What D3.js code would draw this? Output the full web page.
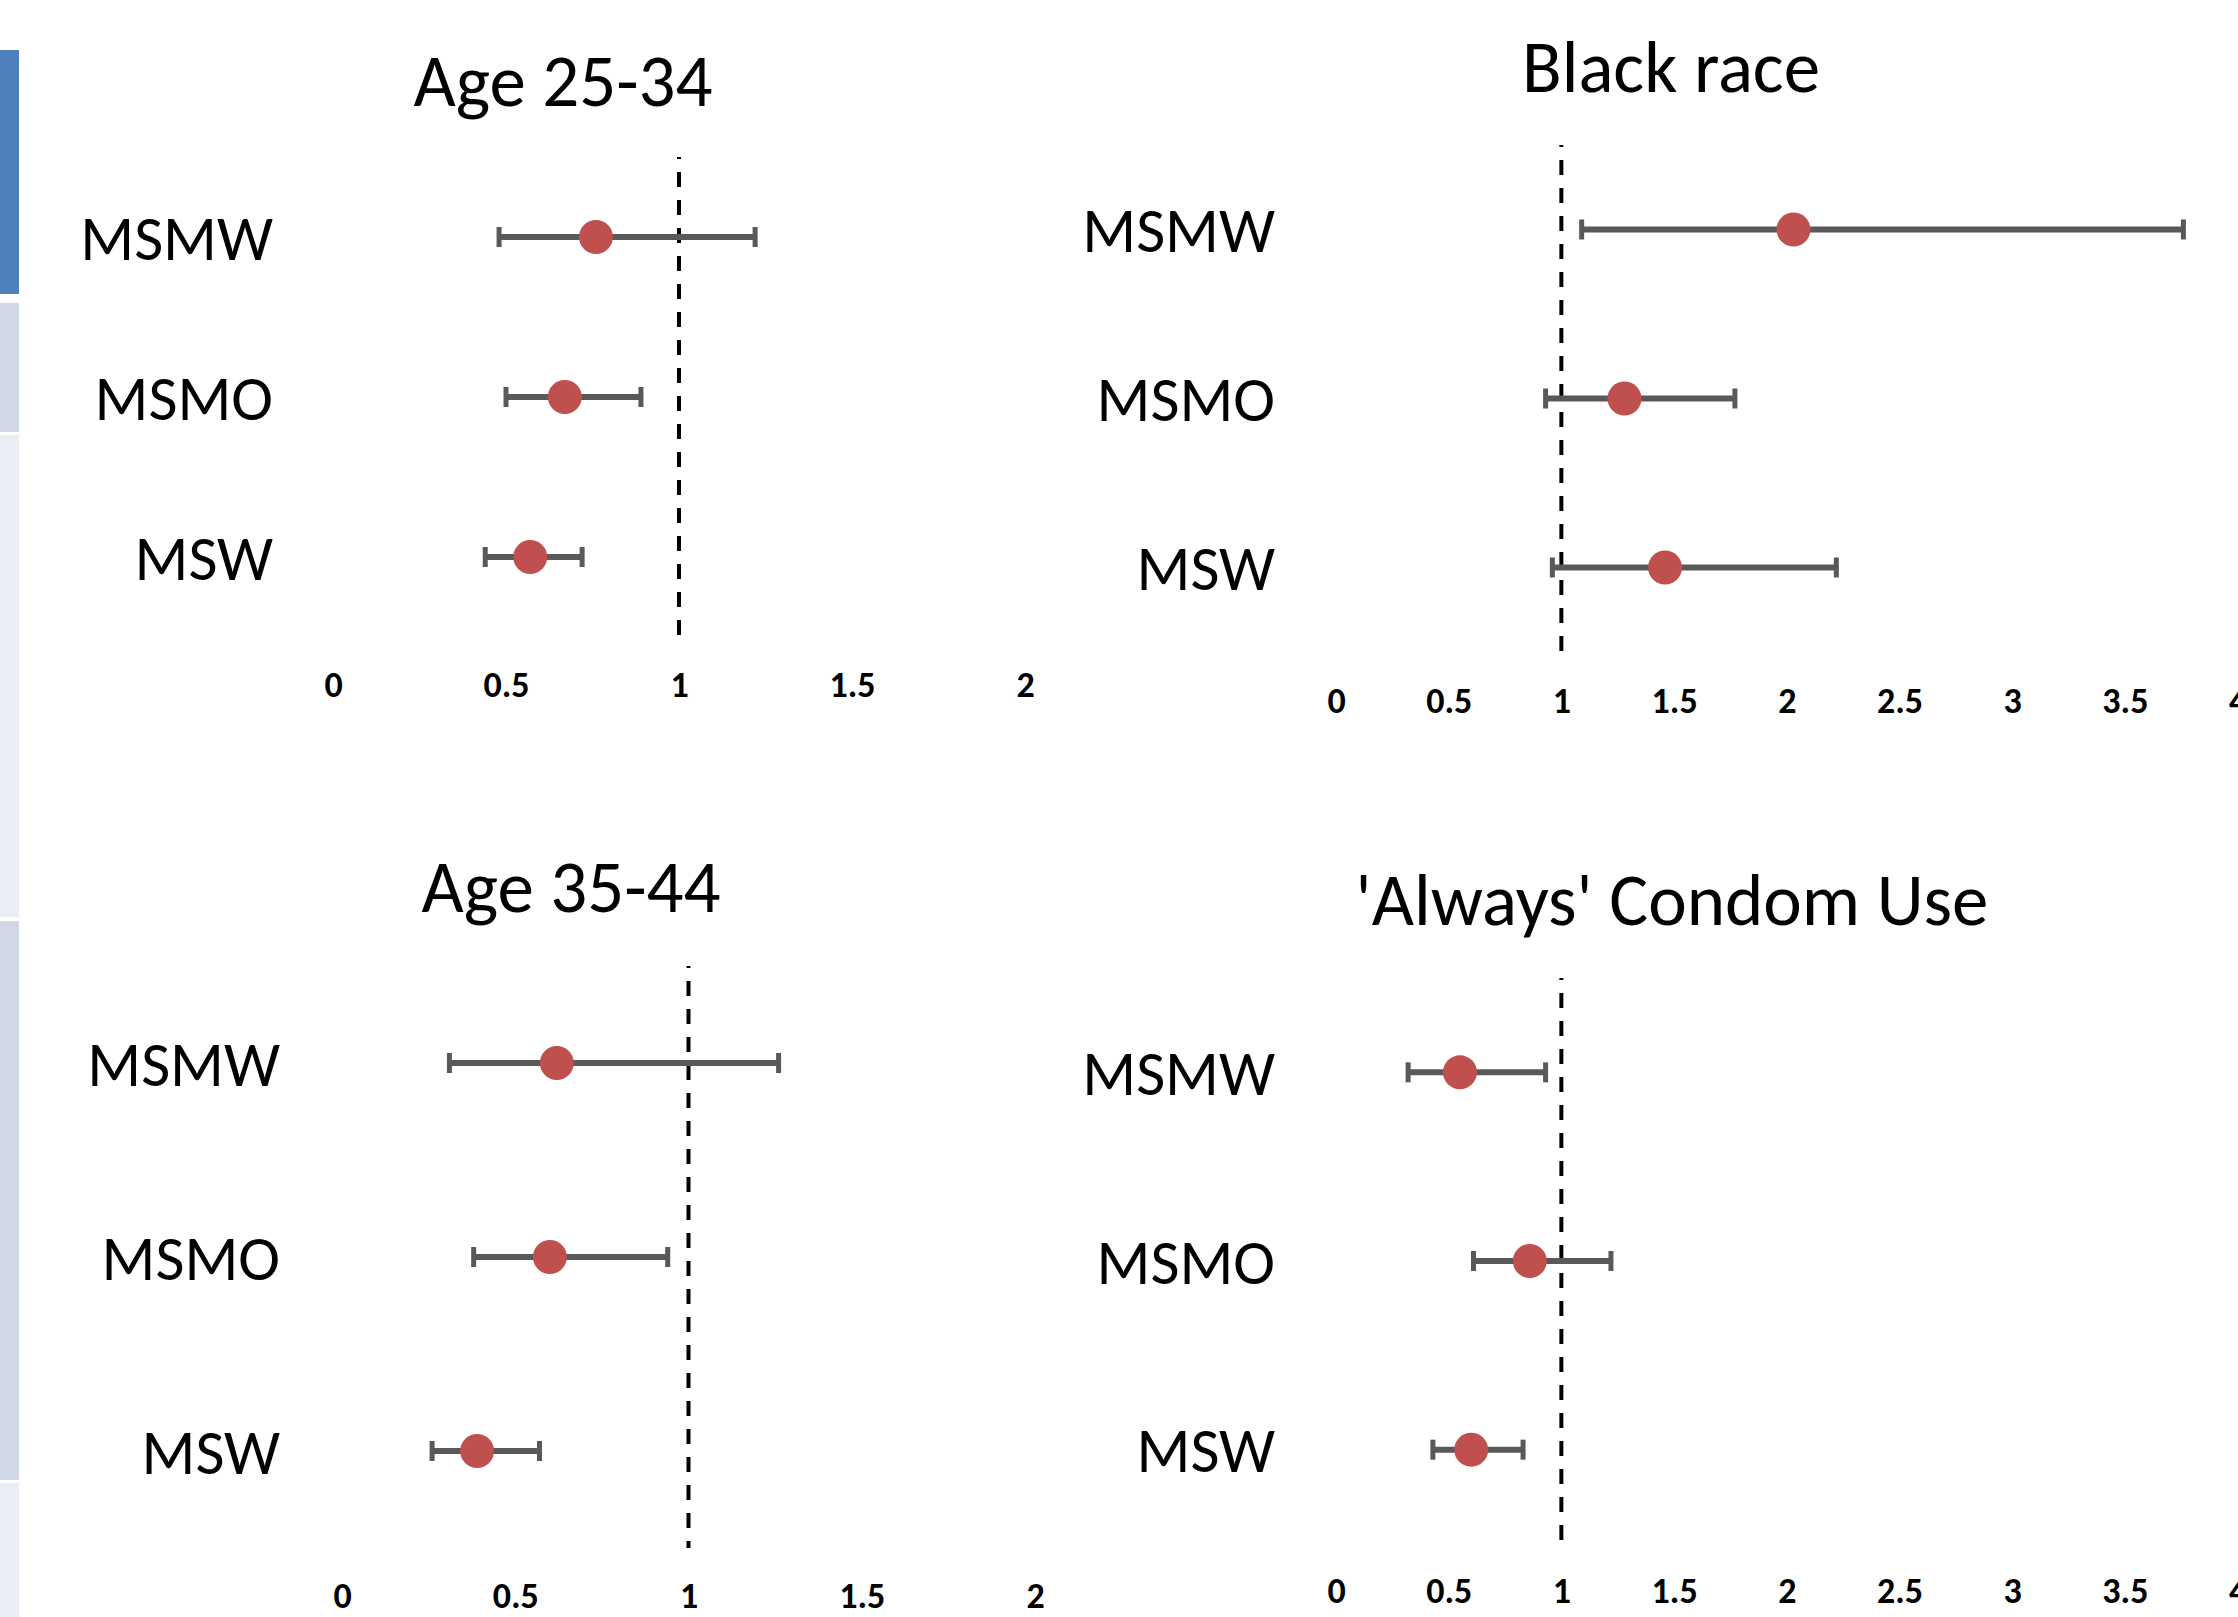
<!DOCTYPE html>
<html>
<head>
<meta charset="utf-8">
<script src="https://cdn.jsdelivr.net/npm/d3@7"></script>
<style>
  html, body { margin: 0; padding: 0; background: #fff; }
  svg { display: block; }
</style>
</head>
<body>
<div id="chart"></div>
<script>
(function() {
  'use strict';

  // data (odds ratios with 95% CI)
  var groups = ['MSMW', 'MSMO', 'MSW'];
  var titles = ['Age 25-34', 'Black race', 'Age 35-44', '\'Always\' Condom Use'];

  var age2534Est = [0.76, 0.67, 0.57];
  var age2534Low = [0.48, 0.50, 0.44];
  var age2534High = [1.22, 0.89, 0.72];

  var blackEst = [2.03, 1.28, 1.46];
  var blackLow = [1.09, 0.93, 0.96];
  var blackHigh = [3.76, 1.77, 2.22];

  var age3544Est = [0.62, 0.60, 0.39];
  var age3544Low = [0.31, 0.38, 0.26];
  var age3544High = [1.26, 0.94, 0.57];

  var condomEst = [0.55, 0.86, 0.60];
  var condomLow = [0.32, 0.61, 0.43];
  var condomHigh = [0.93, 1.22, 0.83];

  var ticksShort = [0, 0.5, 1, 1.5, 2];
  var ticksLong = [0, 0.5, 1, 1.5, 2, 2.5, 3, 3.5, 4];
  var refValue = 1;

  // layout only
  var W = 2238, H = 1617;
  var FONT = 'Carlito, Calibri, Lato, sans-serif';

  var panels = [
    { title: titles[0], est: age2534Est, low: age2534Low, high: age2534High, ticks: ticksShort,
      xr: [333, 1025], yr: [157, 637], labelX: 273, titleX: 563, titleY: 106, tickY: 684 },
    { title: titles[1], est: blackEst, low: blackLow, high: blackHigh, ticks: ticksLong,
      xr: [1336, 2237.5], yr: [145, 652], labelX: 1275, titleX: 1671, titleY: 92, tickY: 700 },
    { title: titles[2], est: age3544Est, low: age3544Low, high: age3544High, ticks: ticksShort,
      xr: [342, 1035], yr: [966, 1548], labelX: 280, titleX: 571, titleY: 912, tickY: 1595 },
    { title: titles[3], est: condomEst, low: condomLow, high: condomHigh, ticks: ticksLong,
      xr: [1336, 2237.5], yr: [978, 1544], labelX: 1275, titleX: 1672, titleY: 925, tickY: 1590 }
  ];

  // bits of the slide table peeking out on the left edge
  var bands = [
    { y0: 50, y1: 294, fill: '#4F81BD' },
    { y0: 303, y1: 432, fill: '#D0D8E8' },
    { y0: 435, y1: 917, fill: '#E9EDF4' },
    { y0: 921, y1: 1480, fill: '#D0D8E8' },
    { y0: 1483, y1: 1617, fill: '#E9EDF4' }
  ];

  var svg = d3.select('#chart').append('svg')
    .attr('width', W)
    .attr('height', H)
    .style('font-family', FONT);

  svg.append('rect').attr('width', W).attr('height', H).attr('fill', '#fff');

  svg.append('g').selectAll('rect')
    .data(bands)
    .join('rect')
    .attr('x', 0)
    .attr('y', function(d) { return d.y0; })
    .attr('width', 19)
    .attr('height', function(d) { return d.y1 - d.y0; })
    .attr('fill', function(d) { return d.fill; });

  panels.forEach(function(p) {
    var x = d3.scaleLinear()
      .domain([0, d3.max(p.ticks)])
      .range(p.xr);
    var y = d3.scalePoint()
      .domain(groups)
      .range(p.yr)
      .padding(0.5);

    var rows = groups.map(function(g, i) {
      return { group: g, est: p.est[i], low: p.low[i], high: p.high[i] };
    });

    var $g = svg.append('g');

    $g.append('text')
      .attr('x', p.titleX)
      .attr('y', p.titleY)
      .attr('text-anchor', 'middle')
      .attr('font-size', 73)
      .attr('fill', '#000')
      .text(p.title);

    // x axis: labels only
    var $axis = $g.append('g')
      .attr('transform', 'translate(0,' + p.tickY + ')')
      .call(d3.axisBottom(x)
        .tickValues(p.ticks)
        .tickSize(0)
        .tickFormat(function(d) { return String(d); }));
    $axis.select('.domain').remove();
    $axis.selectAll('text')
      .attr('y', 0)
      .attr('dy', '0.36em')
      .attr('font-size', 36)
      .attr('font-weight', 'bold')
      .attr('font-family', FONT)
      .attr('fill', '#000');

    // reference line at OR = 1
    $g.append('line')
      .attr('x1', x(refValue))
      .attr('x2', x(refValue))
      .attr('y1', p.yr[0])
      .attr('y2', p.yr[1])
      .attr('stroke', '#000')
      .attr('stroke-width', 4)
      .attr('stroke-dasharray', '15,13')
      .attr('stroke-dashoffset', 13);

    $g.selectAll('.rowlabel')
      .data(rows)
      .join('text')
      .attr('class', 'rowlabel')
      .attr('x', p.labelX)
      .attr('y', function(d) { return y(d.group); })
      .attr('dy', '0.36em')
      .attr('text-anchor', 'end')
      .attr('font-size', 63)
      .attr('fill', '#000')
      .text(function(d) { return d.group; });

    $g.selectAll('.ci')
      .data(rows)
      .join('line')
      .attr('class', 'ci')
      .attr('x1', function(d) { return x(d.low); })
      .attr('x2', function(d) { return x(d.high); })
      .attr('y1', function(d) { return y(d.group); })
      .attr('y2', function(d) { return y(d.group); })
      .attr('stroke', '#595959')
      .attr('stroke-width', 6);

    ['low', 'high'].forEach(function(k) {
      $g.selectAll('.cap-' + k)
        .data(rows)
        .join('line')
        .attr('class', 'cap-' + k)
        .attr('x1', function(d) { return x(d[k]); })
        .attr('x2', function(d) { return x(d[k]); })
        .attr('y1', function(d) { return y(d.group) - 10; })
        .attr('y2', function(d) { return y(d.group) + 10; })
        .attr('stroke', '#595959')
        .attr('stroke-width', 5);
    });

    $g.selectAll('.pt')
      .data(rows)
      .join('circle')
      .attr('class', 'pt')
      .attr('cx', function(d) { return x(d.est); })
      .attr('cy', function(d) { return y(d.group); })
      .attr('r', 17)
      .attr('fill', '#C0504D');
  });
})();
</script>
</body>
</html>
